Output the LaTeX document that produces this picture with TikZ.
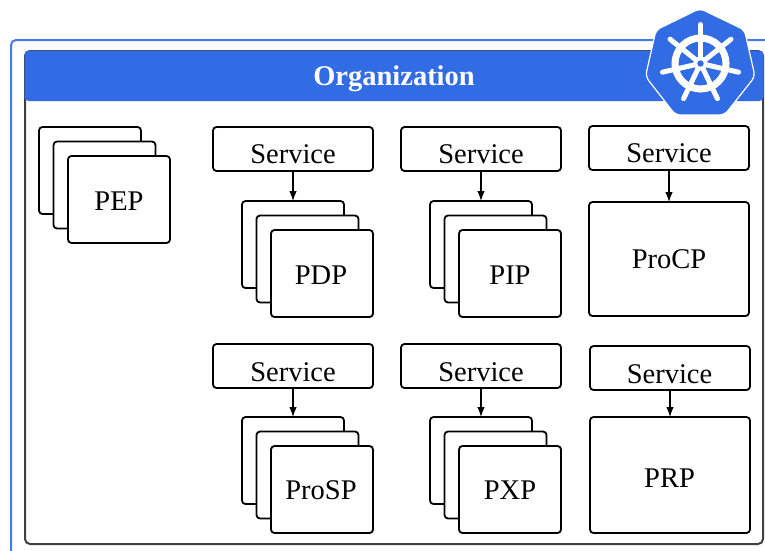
\documentclass[tikz,border=0pt]{standalone}
\usepackage{fontspec}
\setmainfont{Liberation Serif}
\usetikzlibrary{arrows.meta}
\definecolor{kblue}{HTML}{326CE5}
\definecolor{kframe}{HTML}{404040}
\tikzset{
  card/.style={draw=black,fill=white,line width=1.8pt,rounded corners=3.5pt,inner sep=0pt,outer sep=0pt},
  lbl/.style={anchor=base,inner sep=0pt,font=\fontsize{28.5}{30}\selectfont},
  flow/.style={-{Latex[length=10pt,width=7.5pt]},line width=1.2pt,black},
}
% name, x1, y1, x2, y2
\newcommand{\cardbox}[5]{%
  \node[card,minimum width=#4pt-#2pt,minimum height=#5pt-#3pt] (#1) at ({(#2+#4)/2},{(#3+#5)/2}) {};}
% stack: prefix, back-left x, back-top y
\newcommand{\stackbox}[3]{%
  \pgfmathsetmacro{\xa}{#2}\pgfmathsetmacro{\xb}{#2+102}
  \pgfmathsetmacro{\ya}{#3}\pgfmathsetmacro{\yb}{#3+87}
  \cardbox{#1a}{\xa}{\ya}{\xb}{\yb}
  \pgfmathsetmacro{\xa}{#2+14.5}\pgfmathsetmacro{\xb}{#2+116.5}
  \pgfmathsetmacro{\ya}{#3+14.5}\pgfmathsetmacro{\yb}{#3+101.5}
  \cardbox{#1b}{\xa}{\ya}{\xb}{\yb}
  \pgfmathsetmacro{\xa}{#2+29}\pgfmathsetmacro{\xb}{#2+131}
  \pgfmathsetmacro{\ya}{#3+29}\pgfmathsetmacro{\yb}{#3+116}
  \cardbox{#1c}{\xa}{\ya}{\xb}{\yb}}
\begin{document}
\begin{tikzpicture}[x=1pt,y=-1pt]
\useasboundingbox (0,0) rectangle (765,550);
\clip (0,0) rectangle (765,550);
% outer blue frame
\draw[kblue!90!white,line width=2pt,rounded corners=5pt] (11,40) rectangle (790,580);
% organization frame and band
\draw[kframe,line width=2pt,rounded corners=5pt,fill=white] (25,51) rectangle (763,544);
\fill[kblue,rounded corners=4pt] (24.5,50.5) rectangle (763.5,101);
\node[anchor=base,inner sep=0pt,text=white,font=\fontsize{28.5}{30}\selectfont\bfseries] (org) at (394,85) {Organization};
% logo
\draw[white,fill=kblue,line width=1.2pt,rounded corners=5pt]
  (700,8.5) -- (744.5,30) -- (755,76.5) -- (724.5,115) -- (675.5,115) -- (645.5,76.5) -- (656,30) -- cycle;
\draw[white,line width=7pt] (700.5,63.5) circle (25.5);
\foreach \a in {90,141.43,192.86,244.29,295.71,347.14,398.57}{
  \draw[white,line width=5pt,line cap=round] (700.5,63.5) -- ({700.5+39*cos(\a)},{63.5-39*sin(\a)});
}
\fill[white] (700.5,63.5) circle (7);
\fill[kblue] (700.5,63.5) circle (3.2);
% PEP
\stackbox{pep}{39}{127}
\node[lbl] (peplabel) at (119,210) {PEP};
% row 1
\cardbox{s1}{213}{127}{373}{171}
\node[lbl] (s1label) at (293,163) {Service};
\stackbox{pdp}{242}{201}
\node[lbl] (pdplabel) at (321,284) {PDP};
\draw[flow] (s1.south) -- (pdpa.north);
\cardbox{s2}{401}{127}{561}{171}
\node[lbl] (s2label) at (481,163) {Service};
\stackbox{pip}{430}{201}
\node[lbl] (piplabel) at (510,284) {PIP};
\draw[flow] (s2.south) -- (pipa.north);
\cardbox{s3}{589}{126}{749}{170}
\node[lbl] (s3label) at (669,162) {Service};
\cardbox{procp}{589}{202}{749}{316}
\node[lbl] (procplabel) at (669,268) {ProCP};
\draw[flow] (s3.south) -- (procp.north);
% row 2
\cardbox{s4}{213}{344}{373}{388}
\node[lbl] (s4label) at (293,381) {Service};
\stackbox{prosp}{242}{417}
\node[lbl] (prosplabel) at (321,499) {ProSP};
\draw[flow] (s4.south) -- (prospa.north);
\cardbox{s5}{401}{344}{561}{388}
\node[lbl] (s5label) at (481,381) {Service};
\stackbox{pxp}{430}{417}
\node[lbl] (pxplabel) at (510,499) {PXP};
\draw[flow] (s5.south) -- (pxpa.north);
\cardbox{s6}{590}{346}{750}{390}
\node[lbl] (s6label) at (669.5,383) {Service};
\cardbox{prp}{590}{417}{750}{533}
\node[lbl] (prplabel) at (669.5,487) {PRP};
\draw[flow] (s6.south) -- (prp.north);
\end{tikzpicture}
\end{document}
